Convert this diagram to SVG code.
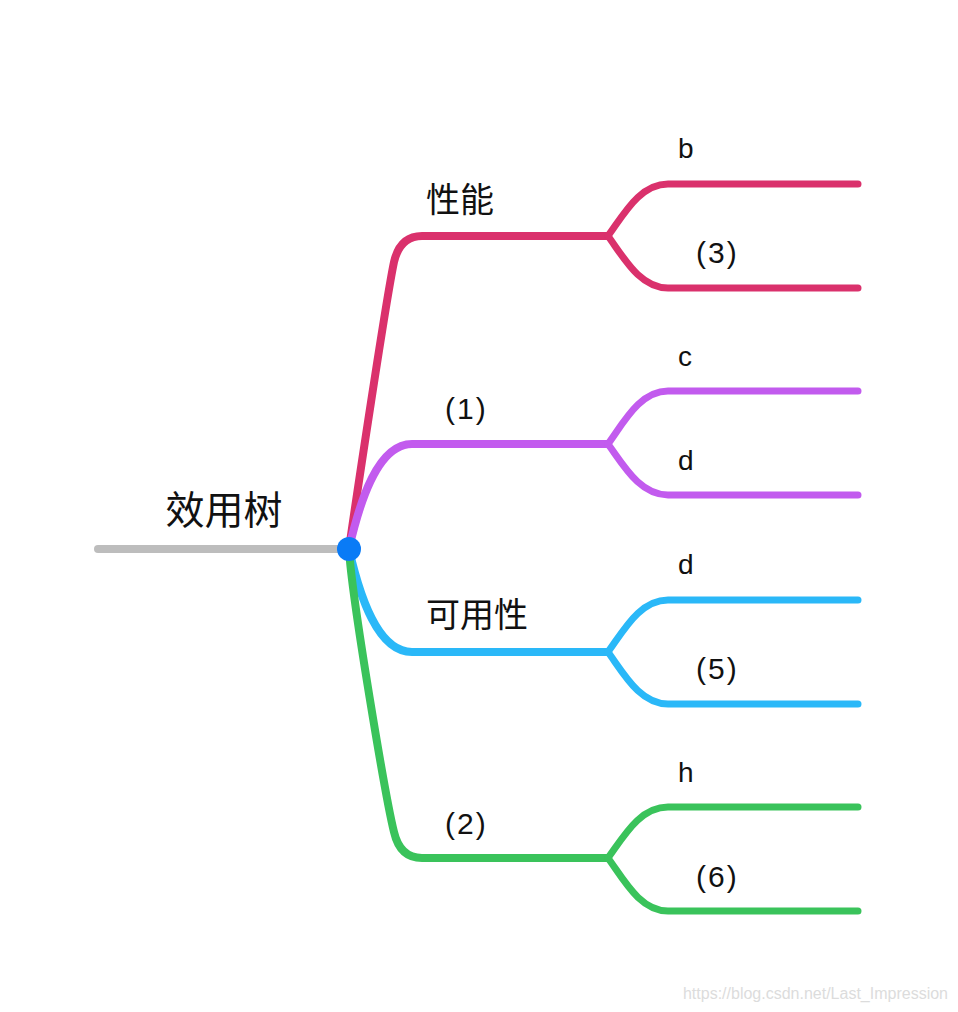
<svg xmlns="http://www.w3.org/2000/svg" width="958" height="1012" viewBox="0 0 958 1012">
<style>
text{font-family:"Liberation Sans","Noto Sans CJK SC",sans-serif;fill:#111;}
.cn{font-size:34px;}
.lb{font-size:28px;}
.pn{font-size:30px;letter-spacing:2px;}
.ln{fill:none;stroke-linecap:round;stroke-linejoin:round;}
.main{stroke-width:8;}
.sub{stroke-width:7;}
.r{stroke:#DA316C;}
.p{stroke:#C25BEE;}
.b{stroke:#2AB8F8;}
.g{stroke:#3AC35B;}
</style>
<rect width="958" height="1012" fill="#fff"/>
<g id="connectors">
<path class="ln main" d="M98,549 L349,549" stroke="#BDBDBD" stroke-width="9"/>
<path class="ln main r" d="M349,549 C356,500 386,300 394,262 Q400,236 422,236 L608,236"/>
<path class="ln sub r" d="M608,236 C624,214 640,184 668,184 L858,184"/>
<path class="ln sub r" d="M608,236 C624,258 640,288 668,288 L858,288"/>
<path class="ln main p" d="M349,549 C360,500 378,444 412,444 L608,444"/>
<path class="ln sub p" d="M608,444 C624,422 640,391 668,391 L858,391"/>
<path class="ln sub p" d="M608,444 C624,466 640,495 668,495 L858,495"/>
<path class="ln main b" d="M349,549 C360,598 378,652 412,652 L608,652"/>
<path class="ln sub b" d="M608,652 C624,630 640,600 668,600 L858,600"/>
<path class="ln sub b" d="M608,652 C624,674 640,704 668,704 L858,704"/>
<path class="ln main g" d="M349,549 C352,600 386,800 394,832 Q400,858 422,858 L608,858"/>
<path class="ln sub g" d="M608,858 C624,836 640,807 668,807 L858,807"/>
<path class="ln sub g" d="M608,858 C624,880 640,911 668,911 L858,911"/>
</g>
<g id="root"><circle cx="349" cy="549" r="12" fill="#0A7BF6"/><text x="224" y="524" text-anchor="middle" font-size="39">效用树</text></g>
<g id="n-xingneng"><text class="cn" x="426" y="212">性能</text></g>
<g id="n-1"><text class="pn" x="445" y="419">(1)</text></g>
<g id="n-keyongxing"><text class="cn" x="426" y="627" font-size="35">可用性</text></g>
<g id="n-2"><text class="pn" x="445" y="834">(2)</text></g>
<g id="n-b"><text class="lb" x="678" y="158">b</text></g>
<g id="n-3"><text class="pn" x="696" y="263">(3)</text></g>
<g id="n-c"><text class="lb" x="678" y="366">c</text></g>
<g id="n-d1"><text class="lb" x="678" y="470">d</text></g>
<g id="n-d2"><text class="lb" x="678" y="574">d</text></g>
<g id="n-5"><text class="pn" x="696" y="679">(5)</text></g>
<g id="n-h"><text class="lb" x="678" y="782">h</text></g>
<g id="n-6"><text class="pn" x="696" y="887">(6)</text></g>
<text x="948" y="999" text-anchor="end" font-size="16" style="fill:#dcdcdc">https://blog.csdn.net/Last_Impression</text>
</svg>
